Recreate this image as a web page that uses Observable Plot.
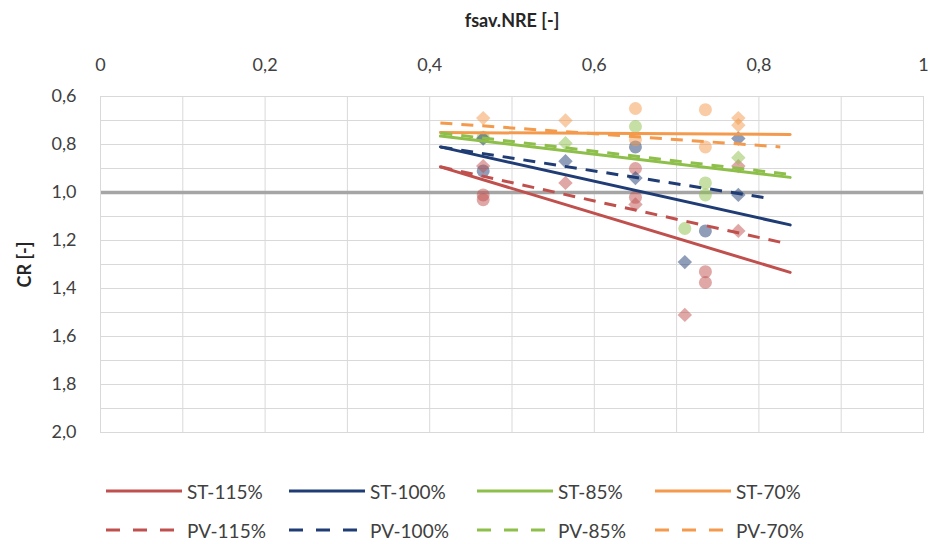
<!DOCTYPE html>
<html>
<head>
<meta charset="utf-8">
<script src="https://cdn.jsdelivr.net/npm/d3@7"></script>
<script src="https://cdn.jsdelivr.net/npm/@observablehq/plot@0.6"></script>
<style>
  html, body { margin: 0; padding: 0; background: #fff; }
  body { width: 928px; height: 544px; position: relative; overflow: hidden; font-family: Lato, "Open Sans", sans-serif; }
  #chart { position: absolute; left: 0; top: 0; }
  .leg { position: absolute; display: flex; align-items: center; font-size: 19px; color: #404040; white-space: nowrap; }
  .leg svg { margin-right: 5px; }
</style>
</head>
<body>
<div id="chart"></div>
<div id="legend"></div>
<script>
// ---- data ----
const seriesNames = ["ST-115%", "ST-100%", "ST-85%", "ST-70%", "PV-115%", "PV-100%", "PV-85%", "PV-70%"];
const seriesColors = ["#c0504d", "#1f3c74", "#8dbf4a", "#f39a4c", "#c0504d", "#1f3c74", "#8dbf4a", "#f39a4c"];

// trend lines: [x0, y0, x1, y1]
const trendST115 = [0.413, 0.893, 0.838, 1.333];
const trendST100 = [0.413, 0.810, 0.838, 1.135];
const trendST85  = [0.413, 0.765, 0.838, 0.937];
const trendST70  = [0.413, 0.750, 0.838, 0.758];
const trendPV115 = [0.413, 0.893, 0.830, 1.210];
const trendPV100 = [0.413, 0.810, 0.814, 1.025];
const trendPV85  = [0.413, 0.752, 0.838, 0.925];
const trendPV70  = [0.413, 0.710, 0.826, 0.810];

// observed points (circles = ST, diamonds = PV)
const ptsST115 = [[0.465, 1.01], [0.465, 1.03], [0.650, 0.90], [0.650, 1.02], [0.735, 1.33], [0.735, 1.375]];
const ptsST100 = [[0.465, 0.91], [0.650, 0.81], [0.735, 1.16]];
const ptsST85  = [[0.465, 0.77], [0.650, 0.725], [0.710, 1.15], [0.735, 0.96], [0.735, 1.01]];
const ptsST70  = [[0.650, 0.65], [0.650, 0.78], [0.735, 0.655], [0.735, 0.81]];
const ptsPV115 = [[0.465, 0.89], [0.565, 0.96], [0.650, 1.05], [0.710, 1.51], [0.775, 0.89], [0.775, 1.16]];
const ptsPV100 = [[0.465, 0.775], [0.565, 0.87], [0.650, 0.94], [0.710, 1.29], [0.775, 0.775], [0.775, 1.01]];
const ptsPV85  = [[0.565, 0.795], [0.775, 0.855]];
const ptsPV70  = [[0.465, 0.69], [0.565, 0.70], [0.775, 0.69], [0.775, 0.72]];

const xTicks = [0, 0.2, 0.4, 0.6, 0.8, 1];
const yTicks = [0.6, 0.8, 1.0, 1.2, 1.4, 1.6, 1.8, 2.0];
const xGrid = [0, 0.1, 0.2, 0.3, 0.4, 0.5, 0.6, 0.7, 0.8, 0.9, 1.0];
const yGrid = [0.6, 0.7, 0.8, 0.9, 1.0, 1.1, 1.2, 1.3, 1.4, 1.5, 1.6, 1.7, 1.8, 1.9, 2.0];
const refLine = [1.0];

// ---- build tables ----
const trends = [trendST115, trendST100, trendST85, trendST70, trendPV115, trendPV100, trendPV85, trendPV70];
const lineRows = [];
trends.forEach((t, i) => {
  lineRows.push({s: seriesNames[i], x: t[0], y: t[1], dashed: i >= 4});
  lineRows.push({s: seriesNames[i], x: t[2], y: t[3], dashed: i >= 4});
});
const ptsAll = [ptsST115, ptsST100, ptsST85, ptsST70, ptsPV115, ptsPV100, ptsPV85, ptsPV70];
const pointRows = [];
ptsAll.forEach((arr, i) => arr.forEach(([x, y]) => pointRows.push({s: seriesNames[i], x, y, pv: i >= 4})));

const comma = (d, digits) => d.toFixed(digits).replace(".", ",");
const color = Plot.scale({color: {domain: seriesNames, range: seriesColors}});

const chart = Plot.plot({
  width: 928,
  height: 462,
  marginLeft: 100,
  marginRight: 5,
  marginTop: 96,
  marginBottom: 30,
  style: {fontFamily: "Lato, 'Open Sans', sans-serif", fontSize: "18px", color: "#404040", background: "#fff"},
  x: {domain: [0, 1]},
  y: {domain: [0.6, 2.0], reverse: true},
  color: {domain: seriesNames, range: seriesColors},
  marks: [
    Plot.ruleX(xGrid, {stroke: "#d9d9d9", strokeWidth: 1}),
    Plot.ruleY(yGrid, {stroke: "#d9d9d9", strokeWidth: 1}),
    Plot.ruleY(refLine, {stroke: "#a5a5a5", strokeWidth: 3.5}),
    Plot.dot(pointRows.filter(d => !d.pv), {x: "x", y: "y", fill: "s", r: 6.5, fillOpacity: 0.5, stroke: "none"}),
    Plot.dot(pointRows.filter(d => d.pv), {x: "x", y: "y", fill: "s", r: 6.5, symbol: "diamond2", fillOpacity: 0.5, stroke: "none"}),
    Plot.line(lineRows.filter(d => !d.dashed), {x: "x", y: "y", z: "s", stroke: "s", strokeWidth: 3}),
    Plot.line(lineRows.filter(d => d.dashed), {x: "x", y: "y", z: "s", stroke: "s", strokeWidth: 3, strokeDasharray: "12,9", strokeLinecap: "butt"}),
    Plot.axisX(xTicks, {anchor: "top", tickSize: 0, tickPadding: 26, tickFormat: d => (d === 0 || d === 1) ? String(d) : comma(d, 1),
      label: "fsav.NRE [-]", labelAnchor: "center", labelOffset: 82, labelArrow: "none", fill: "#404040", fontSize: 18}),
    Plot.axisY(yTicks, {anchor: "left", tickSize: 0, tickPadding: 24, tickFormat: d => comma(d, 1),
      label: "CR [-]", labelAnchor: "center", labelOffset: 82, labelArrow: "none", fill: "#404040", fontSize: 18}),
    Plot.frame({stroke: "#d9d9d9"})
  ]
});
document.getElementById("chart").appendChild(chart);

// bold axis titles
chart.querySelectorAll("[aria-label='x-axis label'] text, [aria-label='y-axis label'] text").forEach(t => {
  t.setAttribute("font-weight", "bold");
  t.setAttribute("fill", "#262626");
});

// ---- legend ----
const legendCols = [106, 289, 477, 655];
const legendRows = [491, 530];
const legend = document.getElementById("legend");
seriesNames.forEach((name, i) => {
  const row = i < 4 ? 0 : 1;
  const col = i % 4;
  const div = document.createElement("div");
  div.className = "leg";
  div.style.left = legendCols[col] + "px";
  div.style.top = (legendRows[row] - 12) + "px";
  div.style.height = "24px";
  const dash = row === 1 ? `stroke-dasharray="14,13"` : "";
  div.innerHTML = `<svg width="76" height="6"><line x1="0" y1="3" x2="76" y2="3" stroke="${color.apply(name)}" stroke-width="3" ${dash}/></svg><span>${name}</span>`;
  legend.appendChild(div);
});
</script>
</body>
</html>
